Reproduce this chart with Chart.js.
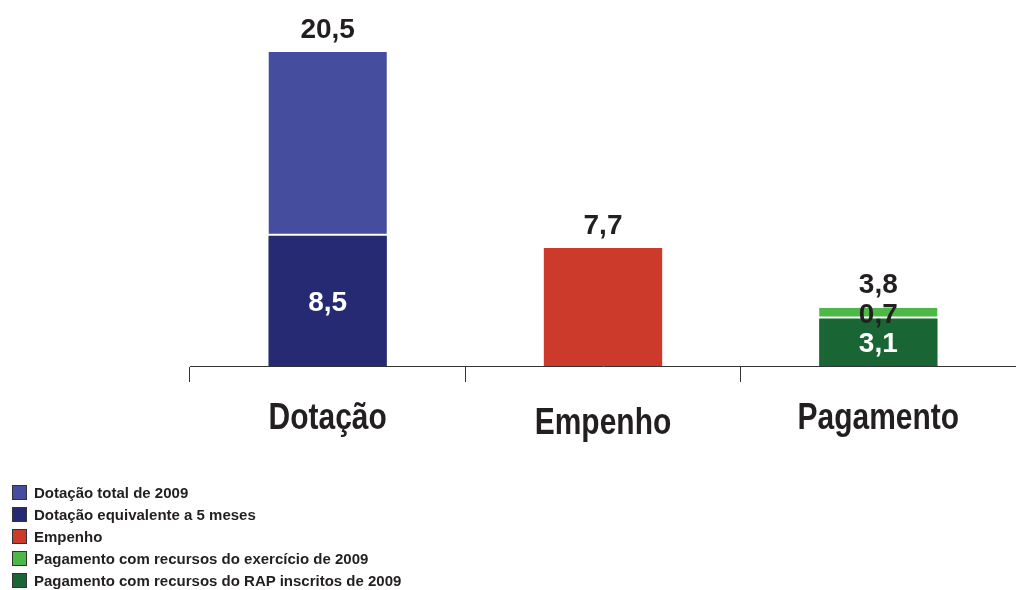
<!DOCTYPE html>
<html>
<head>
<meta charset="utf-8">
<script src="https://cdn.jsdelivr.net/npm/chart.js@4.4.1/dist/chart.umd.min.js"></script>
<style>
    html, body { margin: 0; padding: 0; background: #fff; }
    #wrap { position: relative; width: 1016px; height: 590px; }
    #legend {
        position: absolute; left: 12px; top: 481px;
        font: bold 15px "Liberation Sans", Arial, sans-serif; color: #231f20;
    }
    .item { display: flex; align-items: center; height: 22px; }
    .box { width: 15px; height: 15px; box-sizing: border-box; border: 1px solid #333; margin-right: 7px; }
</style>
</head>
<body>
<div id="wrap">
    <canvas id="chart" width="1016" height="590"></canvas>
    <div id="legend"></div>
</div>
<script>
// values (R$ bilhões)
const categories = ['Dotação', 'Empenho', 'Pagamento'];
const dotacaoTotal = [20.5, null, null];
const dotacao5Meses = [8.5, null, null];
const empenho = [null, 7.7, null];
const pagExercicio = [null, null, 0.7];
const pagRAP = [null, null, 3.1];
const totals = [20.5, 7.7, 3.8];

const colors = {
    total: '#444d9e',
    meses: '#262a72',
    empenho: '#cb3a2a',
    exercicio: '#4cb848',
    rap: '#196634'
};

const textColor = '#231f20';
const fontFamily = '"Liberation Sans", Arial, sans-serif';
const fmt = v => v.toFixed(1).replace('.', ',');

// upper Dotação segment is what remains above the 5-month part
const dotacaoResto = dotacaoTotal.map((v, i) => v == null ? null : v - dotacao5Meses[i]);

const datasets = [
    { label: 'Dotação equivalente a 5 meses', data: dotacao5Meses, backgroundColor: colors.meses, inner: dotacao5Meses, innerColor: '#fff' },
    { label: 'Dotação total de 2009', data: dotacaoResto, backgroundColor: colors.total, borderColor: '#fff', borderWidth: { bottom: 2 }, borderSkipped: false },
    { label: 'Empenho', data: empenho, backgroundColor: colors.empenho },
    { label: 'Pagamento com recursos do RAP inscritos de 2009', data: pagRAP, backgroundColor: colors.rap, inner: pagRAP, innerColor: '#fff' },
    { label: 'Pagamento com recursos do exercício de 2009', data: pagExercicio, backgroundColor: colors.exercicio, borderColor: '#fff', borderWidth: { bottom: 2 }, borderSkipped: false, inner: pagExercicio, innerColor: textColor }
];

const valueLabels = {
    id: 'valueLabels',
    afterDatasetsDraw(chart) {
        const ctx = chart.ctx;
        const size = 28;
        const half = size * 0.36;
        const innerTops = {};
        ctx.save();
        ctx.font = 'bold ' + size + 'px ' + fontFamily;
        ctx.textAlign = 'center';
        ctx.textBaseline = 'alphabetic';

        // labels inside the segments
        chart.data.datasets.forEach((ds, di) => {
            if (!ds.inner) return;
            const meta = chart.getDatasetMeta(di);
            meta.data.forEach((bar, i) => {
                const v = ds.inner[i];
                if (v == null) return;
                const c = (bar.y + bar.base) / 2;
                ctx.fillStyle = ds.innerColor;
                ctx.fillText(fmt(v), bar.x, c + half);
                innerTops[i] = Math.min(innerTops[i] ?? Infinity, c - half);
            });
        });

        // totals above each stack, kept clear of any inner label
        const y = chart.scales.y;
        const x = chart.scales.x;
        ctx.fillStyle = textColor;
        totals.forEach((t, i) => {
            let base = y.getPixelForValue(t) - 14;
            if (innerTops[i] !== undefined) base = Math.min(base, innerTops[i] - 10);
            ctx.fillText(fmt(t), x.getPixelForValue(i), base);
        });
        ctx.restore();
    }
};

// category names in a narrow bold face (squeezed Liberation Sans)
const categoryLabels = {
    id: 'categoryLabels',
    afterDraw(chart) {
        const ctx = chart.ctx;
        const x = chart.scales.x;
        const drop = [63, 68, 63];
        ctx.save();
        ctx.font = 'bold 37px ' + fontFamily;
        ctx.fillStyle = textColor;
        ctx.textAlign = 'center';
        ctx.textBaseline = 'alphabetic';
        categories.forEach((name, i) => {
            ctx.save();
            ctx.translate(x.getPixelForValue(i), x.top + drop[i]);
            ctx.scale(0.81, 1);
            ctx.fillText(name, 0, 0);
            ctx.restore();
        });
        ctx.restore();
    }
};

new Chart(document.getElementById('chart'), {
    type: 'bar',
    data: { labels: categories, datasets: datasets },
    options: {
        responsive: false,
        animation: false,
        categoryPercentage: 1,
        barPercentage: 0.43,
        layout: { padding: { left: 190, top: 29, right: 0 } },
        plugins: {
            legend: { display: false },
            tooltip: { enabled: false }
        },
        scales: {
            x: {
                stacked: true,
                grid: { drawOnChartArea: false, tickLength: 16, color: '#333', offset: true },
                border: { color: '#333', width: 1 },
                ticks: { display: false },
                afterFit(axis) { axis.height = 224; }
            },
            y: {
                stacked: true,
                display: false,
                min: 0,
                max: 22
            }
        }
    },
    plugins: [valueLabels, categoryLabels]
});

// legend in the same order as the reference
const legendOrder = [1, 0, 2, 4, 3];
const legend = document.getElementById('legend');
legendOrder.forEach(i => {
    const ds = datasets[i];
    const row = document.createElement('div');
    row.className = 'item';
    row.innerHTML = '<span class="box" style="background:' + ds.backgroundColor + '"></span>' + ds.label;
    legend.appendChild(row);
});
</script>
</body>
</html>
